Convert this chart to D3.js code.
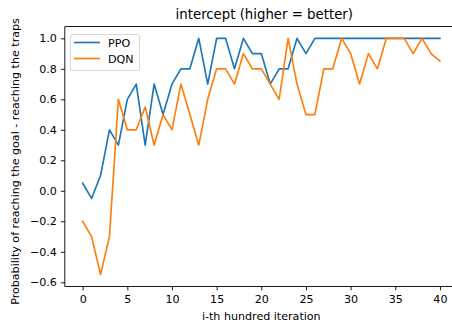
<!DOCTYPE html>
<html>
<head>
<meta charset="utf-8">
<script src="https://cdn.jsdelivr.net/npm/d3@7"></script>
<style>
  html, body { margin: 0; padding: 0; background: #fff; }
  svg { display: block; font-family: "DejaVu Sans", sans-serif; }
</style>
</head>
<body>
<svg id="chart" width="452" height="327"></svg>
<script>
// Iteration index (hundreds of iterations)
const iterations = d3.range(0, 41);

// Probability of reaching the goal minus reaching the traps, per method
const ppoValues = [
  0.05, -0.05, 0.1, 0.4, 0.3, 0.6, 0.7, 0.3, 0.7, 0.5,
  0.7, 0.8, 0.8, 1.0, 0.7, 1.0, 1.0, 0.8, 1.0, 0.9,
  0.9, 0.7, 0.8, 0.8, 1.0, 0.9, 1.0, 1.0, 1.0, 1.0,
  1.0, 1.0, 1.0, 1.0, 1.0, 1.0, 1.0, 1.0, 1.0, 1.0, 1.0
];
const dqnValues = [
  -0.2, -0.3, -0.55, -0.3, 0.6, 0.4, 0.4, 0.55, 0.3, 0.5,
  0.4, 0.7, 0.5, 0.3, 0.6, 0.8, 0.8, 0.7, 0.9, 0.8,
  0.8, 0.7, 0.6, 1.0, 0.7, 0.5, 0.5, 0.8, 0.8, 1.0,
  0.9, 0.7, 0.9, 0.8, 1.0, 1.0, 1.0, 0.9, 1.0, 0.9, 0.85
];

const seriesNames = ["PPO", "DQN"];
const seriesColors = ["#1f77b4", "#ff7f0e"];

const xTicks = [0, 5, 10, 15, 20, 25, 30, 35, 40];
const yTicks = [-0.6, -0.4, -0.2, 0.0, 0.2, 0.4, 0.6, 0.8, 1.0];

const titleText = "intercept (higher = better)";
const xLabelText = "i-th hundred iteration";
const yLabelText = "Probability of reaching the goal - reaching the traps";

// Plot area and text sizes
const plot = { left: 64.8, top: 26.5, right: 457.8, bottom: 286.5 };
const labelSize = 11.1;
const titleSize = 13.3;
const tickLen = 3.9;

const svg = d3.select("#chart");

// Axis domains padded by 5% of the data span
const allY = ppoValues.concat(dqnValues);
const yMin = d3.min(allY), yMax = d3.max(allY);
const yPad = (yMax - yMin) * 0.05;
const xPad = (d3.max(iterations) - d3.min(iterations)) * 0.05;

const x = d3.scaleLinear()
  .domain([d3.min(iterations) - xPad, d3.max(iterations) + xPad])
  .range([plot.left, plot.right]);
const y = d3.scaleLinear()
  .domain([yMin - yPad, yMax + yPad])
  .range([plot.bottom, plot.top]);

const fmtY = v => d3.format(".1f")(v).replace("-", "\u2212");

// Axes
const xAxis = svg.append("g")
  .attr("transform", `translate(0,${plot.bottom})`)
  .call(d3.axisBottom(x).tickValues(xTicks).tickSize(tickLen).tickPadding(5).tickFormat(d3.format("d")));
const yAxis = svg.append("g")
  .attr("transform", `translate(${plot.left},0)`)
  .call(d3.axisLeft(y).tickValues(yTicks).tickSize(tickLen).tickPadding(4).tickFormat(fmtY));

[xAxis, yAxis].forEach(g => {
  g.select(".domain").remove();
  g.selectAll(".tick line").attr("stroke", "#000").attr("stroke-width", 0.9);
  g.selectAll(".tick text")
    .attr("fill", "#000")
    .style("font-size", labelSize + "px")
    .style("font-family", "'DejaVu Sans', sans-serif");
});

// Series lines
const line = d3.line()
  .x((d, i) => x(iterations[i]))
  .y(d => y(d));

[ppoValues, dqnValues].forEach((vals, k) => {
  svg.append("path")
    .datum(vals)
    .attr("fill", "none")
    .attr("stroke", seriesColors[k])
    .attr("stroke-width", 1.67)
    .attr("stroke-linejoin", "round")
    .attr("stroke-linecap", "square")
    .attr("d", line);
});

// Spines
const spine = (x1, y1, x2, y2) => svg.append("line")
  .attr("x1", x1).attr("y1", y1).attr("x2", x2).attr("y2", y2)
  .attr("stroke", "#000").attr("stroke-width", 0.9);
spine(plot.left, plot.top, plot.left, plot.bottom);
spine(plot.left, plot.bottom, plot.right, plot.bottom);
spine(plot.left, plot.top, plot.right, plot.top);
spine(plot.right, plot.top, plot.right, plot.bottom);

// Title and axis labels
const cx = (plot.left + plot.right) / 2;
svg.append("text")
  .attr("x", cx + 3).attr("y", 18.5)
  .attr("text-anchor", "middle")
  .style("font-size", titleSize + "px")
  .text(titleText);
svg.append("text")
  .attr("x", cx).attr("y", 319.5)
  .attr("text-anchor", "middle")
  .style("font-size", labelSize + "px")
  .text(xLabelText);
svg.append("text")
  .attr("transform", `translate(19,${(plot.top + plot.bottom) / 2 + 5}) rotate(-90)`)
  .attr("text-anchor", "middle")
  .style("font-size", labelSize + "px")
  .text(yLabelText);

// Legend
const legend = svg.append("g").attr("transform", "translate(70,34)");
legend.append("rect")
  .attr("x", 0.5).attr("y", 0.5).attr("width", 69).attr("height", 36)
  .attr("rx", 2).attr("fill", "#fff").attr("fill-opacity", 0.8)
  .attr("stroke", "#d0d0d0").attr("stroke-width", 0.9);
seriesNames.forEach((name, k) => {
  const ly = 8.5 + k * 16;
  legend.append("line")
    .attr("x1", 4).attr("x2", 30).attr("y1", ly).attr("y2", ly)
    .attr("stroke", seriesColors[k]).attr("stroke-width", 1.67);
  legend.append("text")
    .attr("x", 38).attr("y", ly + 4)
    .style("font-size", labelSize + "px")
    .text(name);
});
</script>
</body>
</html>
